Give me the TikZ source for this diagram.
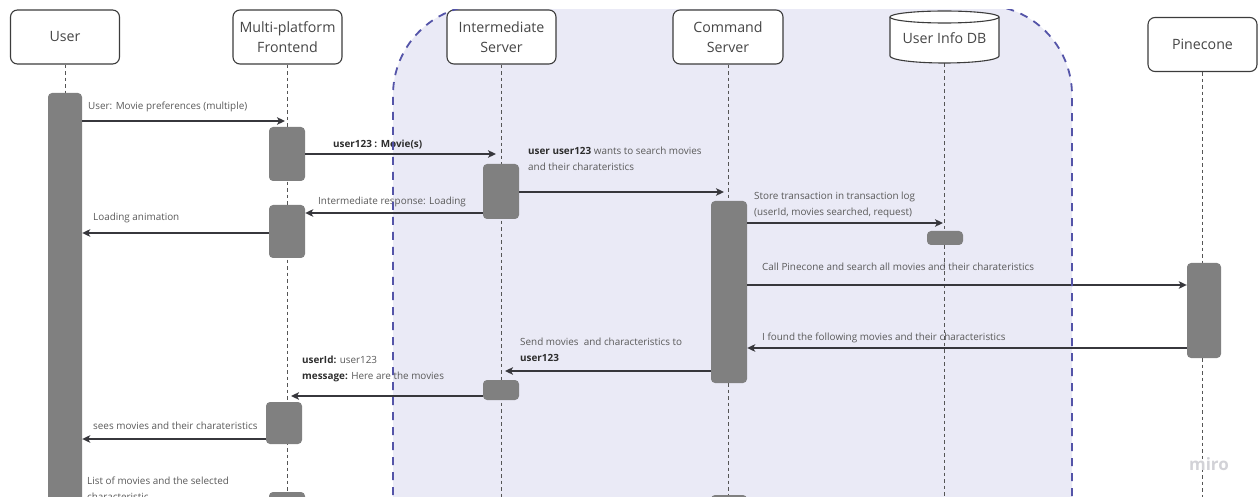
\documentclass[tikz,border=0pt]{standalone}
\usepackage{fontspec}
\setmainfont{Open Sans}
\usetikzlibrary{arrows.meta}

\definecolor{zonefill}{RGB}{234,234,246}
\definecolor{zoneline}{RGB}{84,84,168}
\definecolor{headline}{RGB}{60,60,60}
\definecolor{headtext}{RGB}{70,70,70}
\definecolor{barfill}{RGB}{128,128,128}
\definecolor{lifeline}{RGB}{85,85,85}
\definecolor{arrowcol}{RGB}{55,55,60}
\definecolor{labeltext}{RGB}{90,90,90}
\definecolor{boldtext}{RGB}{45,45,45}
\definecolor{watermark}{RGB}{210,210,215}

\tikzset{
  head/.style={draw=headline, line width=1.1pt, fill=white, rounded corners=7pt,
    minimum width=109pt, minimum height=54pt, align=center, inner sep=0pt,
    text=headtext, font=\fontsize{14.2}{20}\selectfont},
  dblabel/.style={inner sep=0pt, text=headtext, font=\fontsize{14.2}{20}\selectfont},
  actbar/.style={fill=barfill, draw=none, rounded corners=4pt, inner sep=0pt},
  life/.style={draw=lifeline, line width=1pt, dash pattern=on 3.5pt off 3pt},
  msg/.style={draw=arrowcol, line width=1.5pt, -{Stealth[length=8pt,width=7.5pt,inset=2pt]}},
  lbl/.style={anchor=north west, inner sep=0pt, align=left, text=labeltext,
    font=\fontsize{9.9}{15.5}\selectfont},
  zoneedge/.style={draw=zoneline, line width=1.8pt, dash pattern=on 8pt off 7pt},
}

% activation box: name, x1, y1, x2, y2
\newcommand{\actnode}[5]{%
  \node[actbar, minimum width={(#4-#2)*1pt}, minimum height={(#5-#3)*1pt}]
    (#1) at ({(#2+#4)/2},{(#3+#5)/2}) {};}
\newcommand{\bt}[1]{\textbf{\color{boldtext}#1}}

\begin{document}
\begin{tikzpicture}[x=1pt,y=-1pt]
\useasboundingbox (0,0) rectangle (1259,497);
\coordinate (bottom) at (0,530);

% shaded server zone
\begin{scope}
  \clip (0,10) rectangle (1259,497);
  \fill[zonefill, rounded corners=90pt] (393,600) -- (393,5) -- (1072,5) -- (1072,600) -- cycle;
\end{scope}

% message labels
\node[lbl] (t1) at (88,102) {User: Movie preferences (multiple)};
\node[lbl] (t2) at (333,140) {\bt{user123 : Movie(s)}};
\node[lbl] (t3) at (528,147) {\bt{user user123} wants to search movies\\and their charateristics};
\node[lbl] (t4) at (318,197) {Intermediate response: Loading};
\node[lbl] (t5) at (93,213) {Loading animation};
\node[lbl] (t6) at (754,192) {Store transaction in transaction log\\(userId, movies searched, request)};
\node[lbl] (t7) at (762,263) {Call Pinecone and search all movies and their charateristics};
\node[lbl] (t8) at (762,333) {I found the following movies and their characteristics};
\node[lbl] (t9) at (520,338) {Send movies\ \ and characteristics to\\\bt{user123}};
\node[lbl] (t10) at (302,356) {\bt{userId:} user123\\\bt{message:} Here are the movies};
\node[lbl] (t11) at (93,422) {sees movies and their charateristics};
\node[lbl] (t12) at (87,477) {List of movies and the selected\\characteristic};

% participants
\node[head] (user) at (65,37) {User};
\node[head] (front) at (287.5,37) {Multi-platform\\Frontend};
\node[head] (inter) at (501.5,37) {Intermediate\\Server};
\node[head, minimum width=110pt] (cmd) at (728,37) {Command\\Server};
\node[head] (pine) at (1202.5,44.5) {Pinecone};
\node[dblabel, minimum width=109pt, minimum height=52pt] (db) at (944.5,37) {};

% lifelines
\draw[life] (user.south) -- (user.south |- bottom);
\draw[life] (front.south) -- (front.south |- bottom);
\draw[life] (inter.south) -- (inter.south |- bottom);
\draw[life] (cmd.south) -- (cmd.south |- bottom);
\draw[life] (db.south) -- (db.south |- bottom);
\draw[life] (pine.south) -- (pine.south |- bottom);

% database cylinder
\filldraw[fill=white, draw=headline, line width=1.1pt]
  (890,17) -- (890,56) arc[start angle=180, end angle=0, x radius=54.5, y radius=7]
  -- (999,17) arc[start angle=0, end angle=-180, x radius=54.5, y radius=6] -- cycle;
\draw[headline, line width=1.1pt]
  (890,17) arc[start angle=180, end angle=0, x radius=54.5, y radius=6];
\node[dblabel] at (944.5,38) {User Info DB};

% activation boxes
\actnode{ubar}{48}{93}{82}{530}
\actnode{f1}{269}{127}{305}{181}
\actnode{f2}{269}{205}{305}{258}
\actnode{f3}{266}{402}{302}{444}
\actnode{f4}{269}{492}{305}{530}
\actnode{i1}{483}{164}{519}{219}
\actnode{i2}{483}{380}{519}{400}
\actnode{c1}{711}{201}{747}{383}
\actnode{c2}{711}{495}{747}{530}
\actnode{d1}{927}{231}{963}{245}
\actnode{p1}{1187}{263}{1221}{358}

% message rows
\coordinate (r1) at (0,121);
\coordinate (r2) at (0,154);
\coordinate (r3) at (0,192);
\coordinate (r4) at (0,213);
\coordinate (r5) at (0,233);
\coordinate (r6) at (0,223);
\coordinate (r7) at (0,285);
\coordinate (r8) at (0,348);
\coordinate (r9) at (0,371);
\coordinate (r10) at (0,396);
\coordinate (r11) at (0,439);
\coordinate (lf) at (285,0);
\coordinate (li) at (496,0);
\coordinate (lc) at (724,0);
\coordinate (ld) at (943,0);
\coordinate (li2) at (505,0);
\coordinate (lf2) at (291,0);

% messages
\draw[msg] (ubar.east |- r1) -- (lf |- r1);
\draw[msg] (f1.east |- r2) -- (li |- r2);
\draw[msg] (i1.east |- r3) -- (lc |- r3);
\draw[msg] (i1.west |- r4) -- (f2.east |- r4);
\draw[msg] (f2.west |- r5) -- (ubar.east |- r5);
\draw[msg] (c1.east |- r6) -- (ld |- r6);
\draw[msg] (c1.east |- r7) -- (p1.west |- r7);
\draw[msg] (p1.west |- r8) -- (c1.east |- r8);
\draw[msg] (c1.west |- r9) -- (li2 |- r9);
\draw[msg] (i2.west |- r10) -- (lf2 |- r10);
\draw[msg] (f3.west |- r11) -- (ubar.east |- r11);

% dashed zone border
\begin{scope}
  \clip (0,10) rectangle (1259,497);
  \draw[zoneedge, rounded corners=90pt] (393,600) -- (393,5) -- (1072,5) -- (1072,600);
\end{scope}

% board watermark
\node[text=watermark, font=\fontsize{17}{20}\selectfont\bfseries] (mark) at (1209,464) {miro};
\end{tikzpicture}
\end{document}
